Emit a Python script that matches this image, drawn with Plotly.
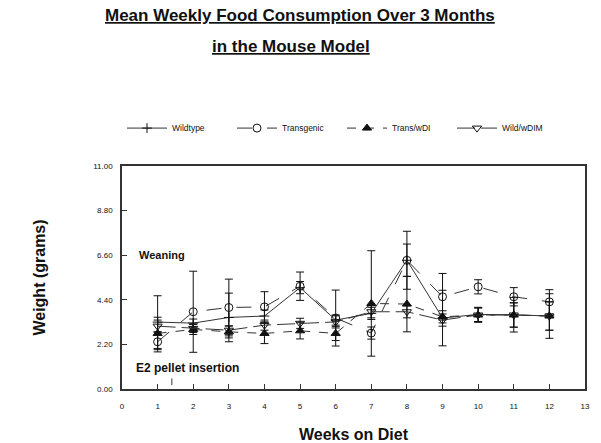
import plotly.graph_objects as go

weeks = [1, 2, 3, 4, 5, 6, 7, 8, 9, 10, 11, 12]

wildtype = [3.30, 3.25, 3.53, 3.60, 5.00, 3.40, 3.73, 6.35, 3.50, 3.68, 3.66, 3.60]
wildtype_err = [1.30, 0.20, 1.20, 0.30, 0.30, 0.25, 0.30, 0.80, 1.37, 0.35, 0.85, 1.10]

transgenic = [2.33, 3.81, 4.02, 4.05, 5.07, 3.50, 2.76, 6.35, 4.55, 5.04, 4.55, 4.30]
transgenic_err = [0.50, 2.00, 1.40, 0.75, 0.70, 1.38, 0.30, 1.43, 1.15, 0.35, 0.45, 0.60]

trans_wdi = [2.74, 2.94, 2.82, 2.74, 2.87, 2.74, 4.22, 4.19, 3.56, 3.65, 3.65, 3.60]
trans_wdi_err = [0.80, 0.25, 0.30, 0.50, 0.40, 0.35, 2.60, 1.37, 0.30, 0.35, 0.60, 0.70]

wild_wdim = [3.10, 2.99, 2.90, 3.15, 3.24, 3.31, 3.81, 3.81, 3.40, 3.65, 3.65, 3.60]
wild_wdim_err = [0.30, 0.20, 0.20, 0.25, 0.25, 0.30, 0.30, 0.30, 0.30, 0.35, 0.60, 0.70]

y_ticks = [0.00, 2.20, 4.40, 6.60, 8.80, 11.00]
y_tick_labels = ["0.00", "2.20", "4.40", "6.60", "8.80", "11.00"]
x_ticks = list(range(0, 14))

FONT = "Liberation Sans, Arial, sans-serif"

series = [
    ("Wildtype", wildtype, wildtype_err, "solid", "cross-thin-open", 7),
    ("Transgenic", transgenic, transgenic_err, "longdash", "circle-open", 8),
    ("Trans/wDI", trans_wdi, trans_wdi_err, "dash", "triangle-up", 8),
    ("Wild/wDIM", wild_wdim, wild_wdim_err, "18px,6px", "triangle-down-open", 8),
]

fig = go.Figure()
for name, vals, errs, dash, sym, size in series:
    fig.add_trace(go.Scatter(
        x=weeks, y=vals, name=name, mode="lines+markers",
        line=dict(color="#333333", width=1, dash=dash),
        marker=dict(symbol=sym, size=size, color="#111111",
                    line=dict(color="#111111", width=1)),
        error_y=dict(type="data", array=errs, visible=True,
                     color="#111111", thickness=1, width=4),
    ))

# Title (two underlined lines)
fig.add_annotation(x=0.384, y=1.675, xref="paper", yref="paper",
                   text="<b><u>Mean Weekly Food Consumption Over 3 Months</u></b>",
                   showarrow=False, xanchor="center", yanchor="middle",
                   font=dict(family=FONT, size=17, color="#111111"))
fig.add_annotation(x=0.365, y=1.538, xref="paper", yref="paper",
                   text="<b><u>in the Mouse Model</u></b>",
                   showarrow=False, xanchor="center", yanchor="middle",
                   font=dict(family=FONT, size=17, color="#111111"))

fig.add_annotation(x=0.42, y=6.6, xref="x", yref="y", text="<b>Weaning</b>",
                   showarrow=False, xanchor="left", yanchor="middle",
                   font=dict(family=FONT, size=11, color="#111111"))
fig.add_annotation(x=0.33, y=1.05, xref="x", yref="y", text="<b>E2 pellet insertion</b>",
                   showarrow=False, xanchor="left", yanchor="middle",
                   font=dict(family=FONT, size=12, color="#111111"))
fig.add_annotation(x=1.4, y=0.2, xref="x", yref="y", ax=0, ay=-8,
                   text="", showarrow=True, arrowhead=0, arrowwidth=1,
                   arrowcolor="#333333")

fig.update_layout(
    width=601, height=443,
    margin=dict(l=122, r=16, t=166, b=54, autoexpand=False),
    paper_bgcolor="white", plot_bgcolor="white",
    font=dict(family=FONT, color="#111111"),
    showlegend=True,
    hovermode=False,
    legend=dict(
        orientation="h", x=0.0, xanchor="left", y=1.17, yanchor="middle",
        font=dict(family=FONT, size=8.5, color="#111111"),
        entrywidth=55, entrywidthmode="pixels", itemwidth=40,
        bgcolor="rgba(0,0,0,0)",
    ),
    xaxis=dict(
        range=[0, 13], tickvals=x_ticks, ticks="inside", ticklen=5,
        tickcolor="#333333", showline=True, linecolor="#333333", linewidth=1.5,
        mirror=True, showgrid=False, zeroline=False, ticklabelstandoff=9,
        automargin=False,
        tickfont=dict(family=FONT, size=8, color="#111111"),
        title=dict(text="<b>Weeks on Diet</b>", standoff=18,
                   font=dict(family=FONT, size=16, color="#111111")),
    ),
    yaxis=dict(
        range=[0, 11], tickvals=y_ticks, ticktext=y_tick_labels, ticks="inside",
        ticklen=5, tickcolor="#333333", showline=True, linecolor="#333333",
        linewidth=1.5, mirror=True, showgrid=False, zeroline=False,
        ticklabelstandoff=6, automargin=False,
        tickfont=dict(family=FONT, size=8, color="#111111"),
        title=dict(text="<b>Weight (grams)</b>", standoff=44,
                   font=dict(family=FONT, size=16, color="#111111")),
    ),
)

fig.write_html("out.html",
               config={"displayModeBar": False},
               post_script=["document.body.style.margin='0px';"])
